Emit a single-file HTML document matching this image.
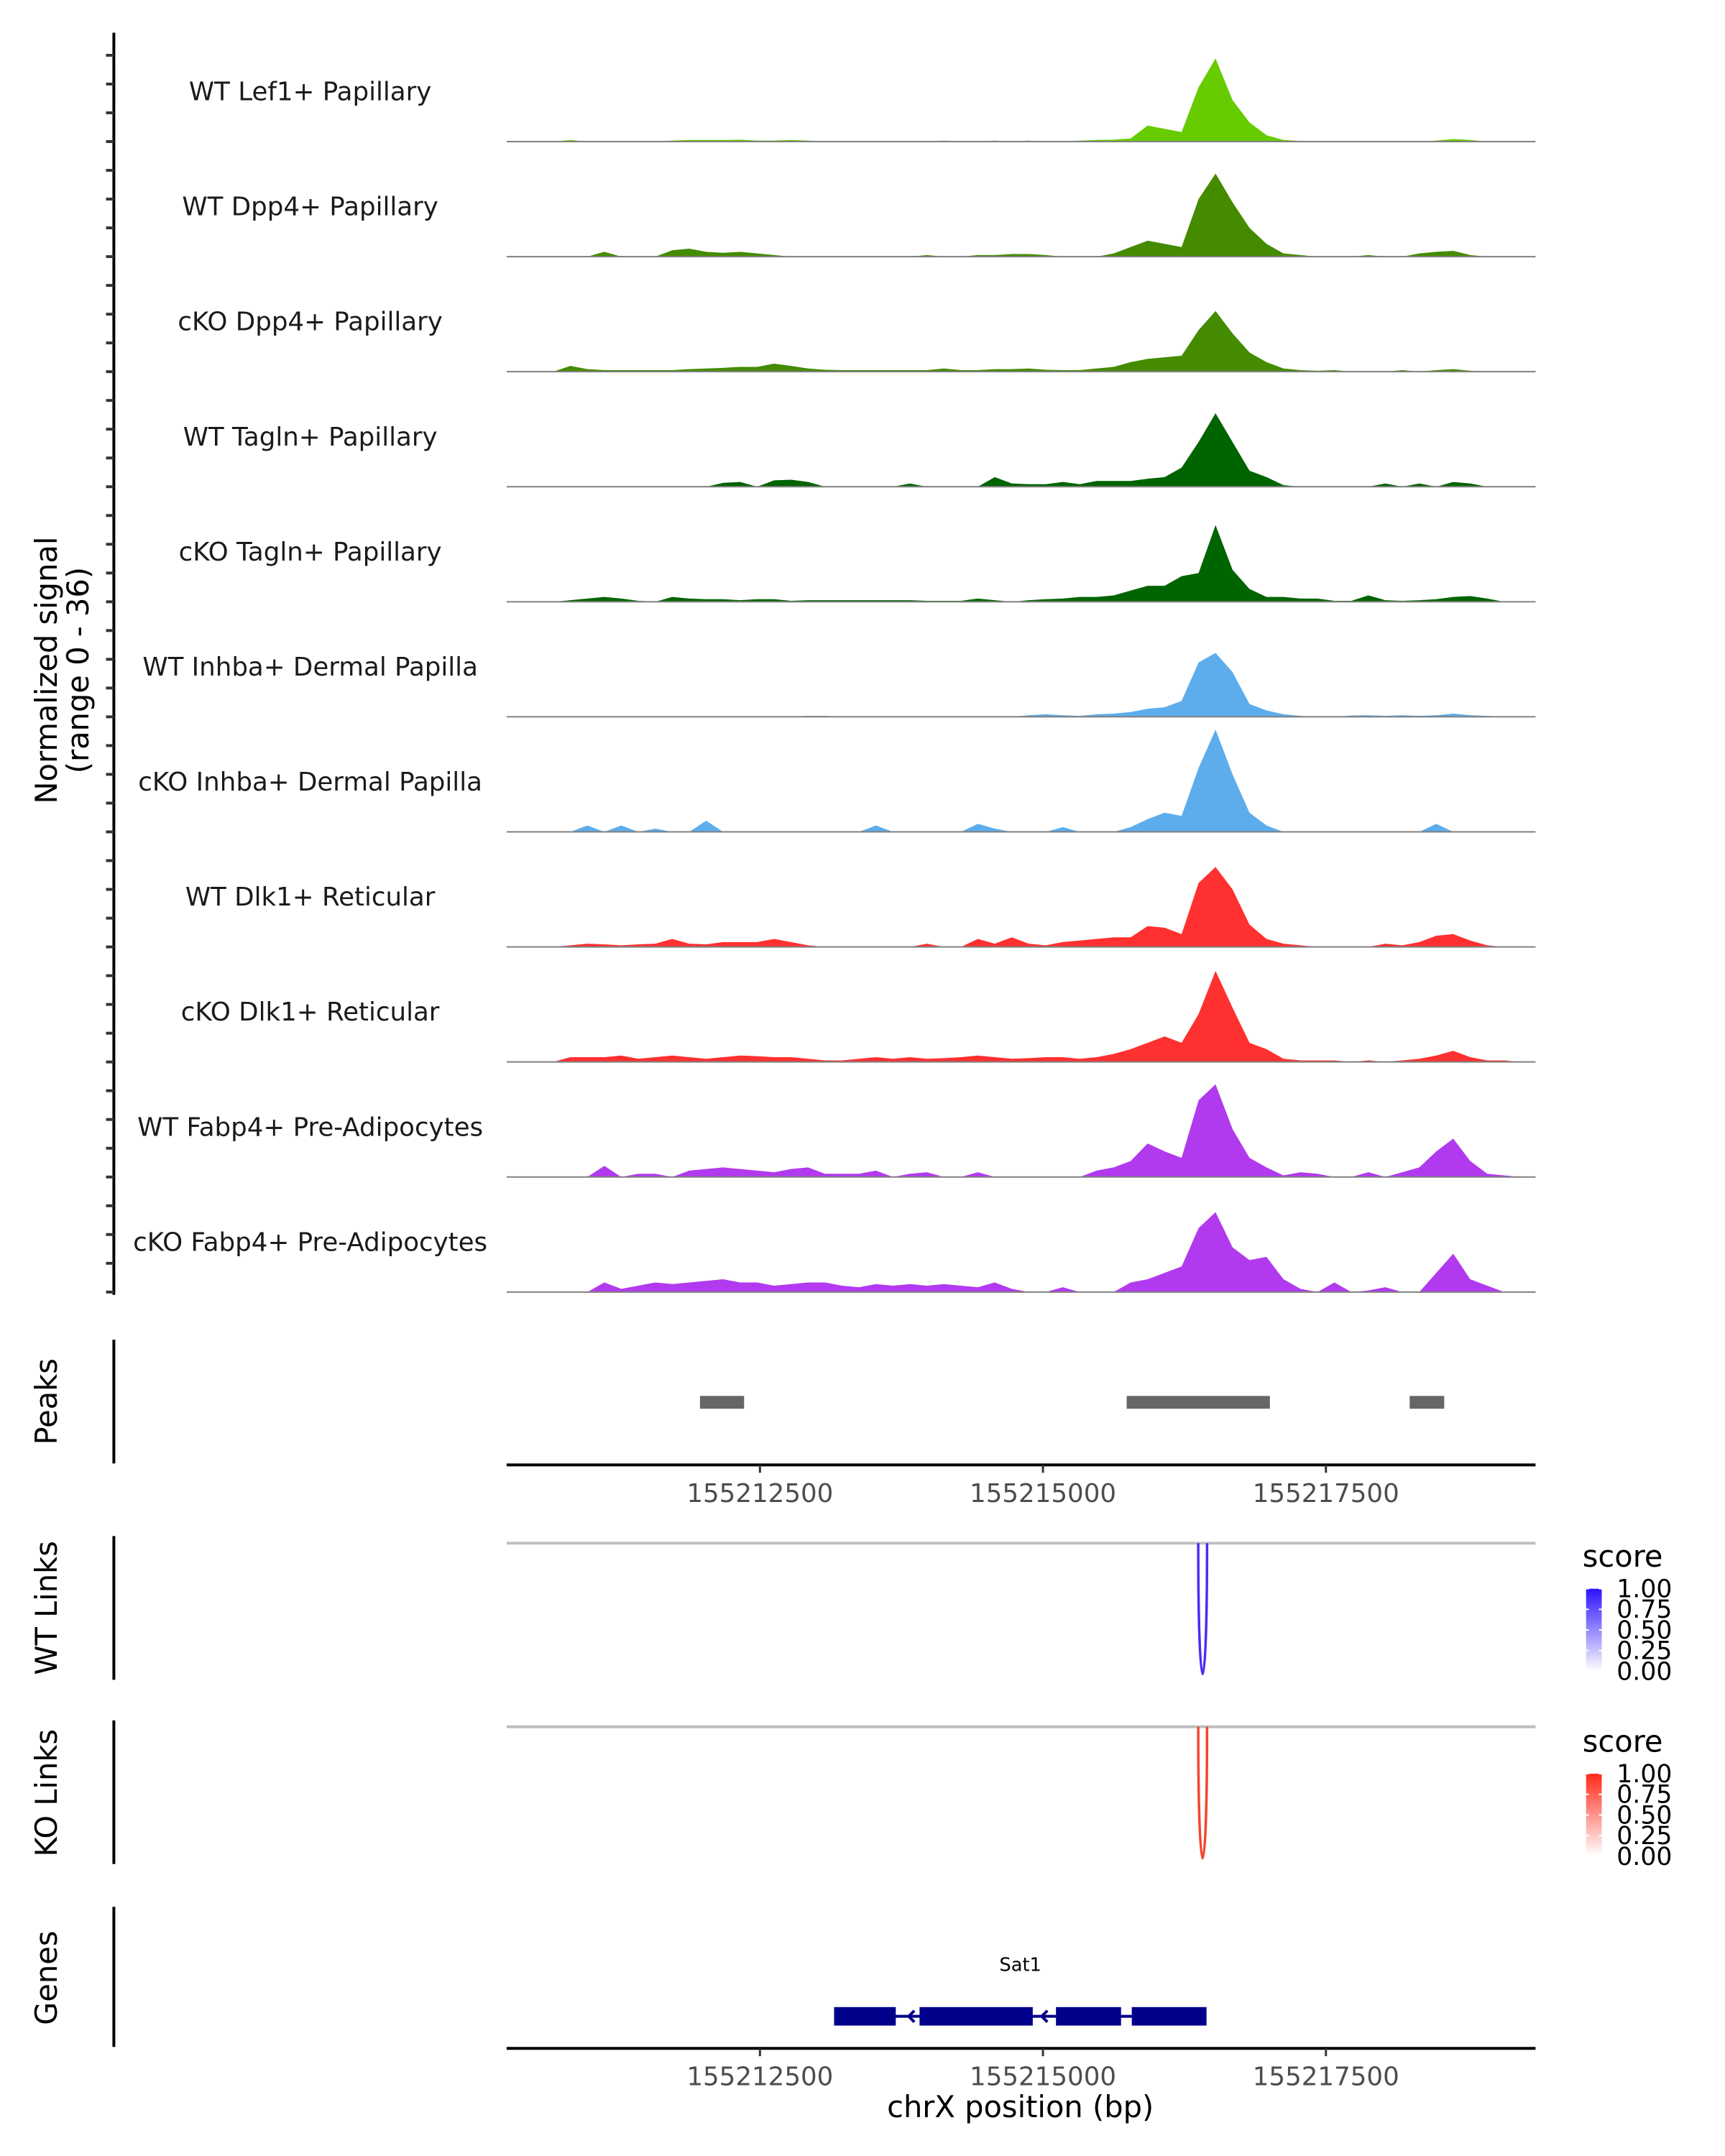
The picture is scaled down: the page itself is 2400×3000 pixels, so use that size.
<!DOCTYPE html>
<html><head><meta charset="utf-8"><style>
html,body{margin:0;padding:0;background:#fff;}
svg{display:block;font-family:"DejaVu Sans","Liberation Sans",sans-serif;}
</style></head><body>
<svg id="fig" width="2400" height="3000" viewBox="0 0 2400 3000" xmlns="http://www.w3.org/2000/svg">
<defs>
<linearGradient id="gBlue" x1="0" y1="1" x2="0" y2="0"><stop offset="0" stop-color="#ffffff"/><stop offset="1" stop-color="#2a12ff"/></linearGradient>
<linearGradient id="gRed" x1="0" y1="1" x2="0" y2="0"><stop offset="0" stop-color="#ffffff"/><stop offset="1" stop-color="#ff2a1a"/></linearGradient>
</defs>
<g transform="scale(0.99)">
<g id="tracks"></g>
<g id="others"></g>
</g>
</svg>
<script>
const binStart = 155210300;
const binWidth = 150;
const trackNames = ["WT Lef1+ Papillary","WT Dpp4+ Papillary","cKO Dpp4+ Papillary","WT Tagln+ Papillary","cKO Tagln+ Papillary","WT Inhba+ Dermal Papilla","cKO Inhba+ Dermal Papilla","WT Dlk1+ Reticular","cKO Dlk1+ Reticular","WT Fabp4+ Pre-Adipocytes","cKO Fabp4+ Pre-Adipocytes"];
const trackColors = ["#66CC00","#448B00","#448B00","#006400","#006400","#5DADEC","#5DADEC","#FF3030","#FF3030","#B23AEE","#B23AEE"];
const sigLef1WT = [0,0,0,0.5,0,0,0,0,0,0.3,0.5,0.5,0.5,0.6,0.3,0.3,0.5,0.3,0,0,0,0,0,0,0,0.3,0,0,0.3,0,0.3,0,0,0.3,0.5,0.6,1,5,4,3,17,26,13,6,2,0.5,0.2,0,0,0,0,0,0,0,0.3,0.8,0.5,0,0,0];
const sigDpp4WT = [0,0,0,0,0,1.5,0,0,0,2,2.5,1.5,1.2,1.5,1,0.5,0,0,0,0,0,0,0,0,0.5,0,0,0.5,0.5,0.8,0.8,0.5,0,0,0,1,3,5,4,3,18,26,17,9,4,1,0.5,0,0,0,0.5,0,0,1,1.5,1.8,0.5,0,0,0];
const sigDpp4KO = [0,0,0,1.8,0.8,0.5,0.5,0.5,0.5,0.5,0.8,1,1.2,1.5,1.5,2.5,1.8,1,0.6,0.5,0.5,0.5,0.5,0.5,0.5,1,0.5,0.5,0.8,0.8,1,0.6,0.5,0.5,1,1.5,3,4,4.5,5,13,19,12,6,3,1,0.5,0.3,0.5,0,0,0,0.5,0,0.5,0.8,0.3,0,0,0];
const sigTaglnWT = [0,0,0,0,0,0,0,0,0,0,0,0,1.2,1.5,0,2,2.2,1.5,0,0,0,0,0,1,0,0,0,0,3,1,0.8,0.8,1.5,0.8,1.8,1.8,1.8,2.5,3,6,14,23,14,5,3,0.5,0,0,0,0,0,1,0,1,0,1.5,1,0,0,0];
const sigTaglnKO = [0,0,0,0.5,1,1.5,1,0.3,0,1.5,1,0.8,0.8,0.5,0.8,0.8,0.3,0.5,0.5,0.5,0.5,0.5,0.5,0.5,0.3,0.3,0.3,1,0.5,0,0.5,0.8,1,1.5,1.5,2,3.5,5,5,8,9,24,10,4,1.5,1.5,1,1,0.3,0.3,2,0.5,0.3,0.5,0.8,1.5,1.8,1,0,0];
const sigInhbaWT = [0,0,0,0,0,0,0,0,0,0,0,0,0,0,0,0,0,0.3,0.3,0,0,0,0,0,0,0,0,0,0,0,0.5,0.8,0.5,0.3,0.8,1,1.5,2.5,3,5,17,20,14,4,2,0.8,0.3,0,0,0.4,0.5,0.3,0.5,0.3,0.5,1,0.5,0.3,0,0];
const sigInhbaKO = [0,0,0,0,2,0,2,0,1,0,0,3.5,0,0,0,0,0,0,0,0,0,2,0,0,0,0,0,2.5,1,0,0,0,1.5,0,0,0,1.5,4,6,5,20,32,18,6,2,0,0,0,0,0,0,0,0,0,2.5,0,0,0,0,0];
const sigDlk1WT = [0,0,0,0.5,1,0.8,0.5,0.8,1,2.5,1,0.8,1.5,1.5,1.5,2.5,1.5,0.5,0,0,0,0,0,0,1,0,0,2.5,1,3,1,0.5,1.5,2,2.5,3,3,6.5,6,4,20,25,18,7,2.5,1,0.5,0,0,0,0,1,0.5,1.5,3.5,4,2,0.5,0,0];
const sigDlk1KO = [0,0,0,1.5,1.5,1.5,2,1,1.5,2,1.5,1,1.5,2,1.8,1.5,1.5,1,0.5,0.5,1,1.5,1,1.5,1,1.2,1.5,2,1.5,1,1.2,1.5,1.5,1,1.5,2.5,4,6,8,6,15,28.5,17,6,4,1,0.5,0.5,0.5,0,0.5,0,0.5,1,2,3.5,1.5,0.5,0.5,0];
const sigFabp4WT = [0,0,0,0,0,3.5,0,1,1,0,2,2.5,3,2.5,2,1.5,2.5,3,1,1,1,2,0,1,1.5,0,0,1.5,0,0,0,0,0,0,2,3,5,10.5,8,6,24,29,15,6,3,0.5,1.5,1,0,0,1.5,0,1.5,3,8,12,5,1,0.5,0];
const sigFabp4KO = [0,0,0,0,0,3,1,2,3,2.5,3,3.5,4,3,3,2,2.5,3,3,2,1.5,2.5,2,2.5,2,2.5,2,1.5,3,1,0,0,1.5,0,0,0,3,4,6,8,20,25,14,10,11,4,1,0,3,0,0.5,1.5,0,0,6,12,4,2,0,0];
const trackSignals = [sigLef1WT,sigDpp4WT,sigDpp4KO,sigTaglnWT,sigTaglnKO,sigInhbaWT,sigInhbaKO,sigDlk1WT,sigDlk1KO,sigFabp4WT,sigFabp4KO];
const yTickValues = [0,9,18,27];
const xTickValues = [155212500,155215000,155217500];
const peakStarts = [155211970,155215740,155218240];
const peakEnds = [155212360,155217005,155218545];
const wtLinkStart = [155216372], wtLinkEnd = [155216450], wtLinkScore = [0.85];
const koLinkStart = [155216372], koLinkEnd = [155216450], koLinkScore = [0.85];
const legendTicks = ["1.00","0.75","0.50","0.25","0.00"];
const exonStarts = [155213155,155213910,155215115,155215785];
const exonEnds = [155213700,155214910,155215690,155216445];

const NS="http://www.w3.org/2000/svg";
const X0=712,X1=2158,G0=155210262,G1=155219352;
function xs(g){return X0+(g-G0)/(G1-G0)*(X1-X0);}
const TRACK_H=161.7, BASE0=199, MAXV=36;
function ys(i,v){return BASE0+i*TRACK_H - v/MAXV*TRACK_H;}
function mk(tag,attrs,parent){const e=document.createElementNS(NS,tag);for(const k in attrs)e.setAttribute(k,attrs[k]);parent.appendChild(e);return e;}
function txt(s,attrs,parent){const e=mk('text',attrs,parent);e.textContent=s;return e;}
const T=document.getElementById('tracks'), O=document.getElementById('others');

let ax=mk('line',{x1:160,y1:46,x2:160,y2:1820,stroke:'#000','stroke-width':4},T);


for(let i=0;i<trackSignals.length;i++){
  for(const tv of yTickValues){
    const y=ys(i,tv);
    const tk=mk('line',{x1:149,y1:y,x2:160,y2:y,stroke:'#333','stroke-width':4},T);
    
    
  }
}
let yt=txt('Normalized signal',{x:0,y:0,'font-size':42,'text-anchor':'middle',fill:'#000',transform:'translate(80,942) rotate(-90)'},T);


let yt2=txt('(range 0 - 36)',{x:0,y:0,'font-size':42,'text-anchor':'middle',fill:'#000',transform:'translate(124,942) rotate(-90)'},T);



for(let i=0;i<trackSignals.length;i++){
  const g=mk('g',{},T);
  
  
  const base=ys(i,0);
  const vals=trackSignals[i];
  let d='M'+xs(binStart)+','+base;
  for(let b=0;b<vals.length;b++){
    const xc=xs(binStart+(b+0.5)*binWidth), y=ys(i,vals[b]);
    d+=' L'+xc+','+y;
  }
  d+=' L'+xs(binStart+vals.length*binWidth)+','+base+' Z';
  const p=mk('path',{d:d,fill:trackColors[i],stroke:'none'},g);
  
  
  const bl=mk('line',{x1:X0,y1:base,x2:X1,y2:base,stroke:'#808080','stroke-width':2},g);
  
  
  const lb=txt(trackNames[i],{x:436,y:base-58,'font-size':36,'text-anchor':'middle',fill:'#1a1a1a'},g);
  
  
}

function panelLabel(s,cy,name){
  const t=txt(s,{x:0,y:0,'font-size':42,'text-anchor':'middle',fill:'#000',transform:'translate(80,'+cy+') rotate(-90)'},O);
  
  
}
function vline(y1,y2,name){
  const l=mk('line',{x1:160,y1:y1,x2:160,y2:y2,stroke:'#000','stroke-width':4},O);
  
  
}
function xaxis(y,name){
  const g=mk('g',{},O);
  
  
  mk('line',{x1:X0,y1:y,x2:X1,y2:y,stroke:'#000','stroke-width':4},g);
  for(const v of xTickValues){
    const x=xs(v);
    const tk=mk('line',{x1:x,y1:y,x2:x,y2:y+11,stroke:'#333','stroke-width':3},g);
    
    
    const tl=txt(String(v),{x:x,y:y+52,'font-size':36,'text-anchor':'middle',fill:'#4d4d4d'},g);
    
    
  }
}
panelLabel('Peaks',1970,'peaks-panel-label');
vline(1883,2057,'peaks-axis-line');
for(let k=0;k<peakStarts.length;k++){
  const r=mk('rect',{x:xs(peakStarts[k]),y:1962,width:xs(peakEnds[k])-xs(peakStarts[k]),height:18,fill:'#666'},O);
  
  
}
xaxis(2059,'peaks-x-axis');

function linkPanel(y0,depth,starts,ends,scores,col,grad,label,cy,top,bot,legY,prefix){
  panelLabel(label,cy,prefix+'-panel-label');
  vline(top,bot,prefix+'-axis-line');
  const gl=mk('line',{x1:X0,y1:y0,x2:X1,y2:y0,stroke:'#bebebe','stroke-width':4},O);
  
  
  for(let k=0;k<starts.length;k++){
    const a=xs(starts[k]),b=xs(ends[k]),c=y0+depth*scores[k]/0.85*4/3;
    const p=mk('path',{d:'M'+a+','+y0+' C'+a+','+c+' '+b+','+c+' '+b+','+y0,fill:'none',stroke:col,'stroke-width':3.5},O);
    
    
  }
  const lg=mk('g',{},O);
  
  
  txt('score',{x:2224,y:legY,'font-size':42,fill:'#000'},lg);
  const b0=legY+31;
  mk('rect',{x:2229,y:b0,width:22,height:116,fill:'url(#'+grad+')'},lg);
  legendTicks.forEach((s,j)=>{
    const y=b0+j*29;
    mk('line',{x1:2229,y1:y,x2:2233,y2:y,stroke:'#fff','stroke-width':2},lg);
    mk('line',{x1:2247,y1:y,x2:2251,y2:y,stroke:'#fff','stroke-width':2},lg);
    const t=txt(s,{x:2272,y:y+12,'font-size':35,fill:'#000'},lg);
    
    
  });
}
linkPanel(2169,184,wtLinkStart,wtLinkEnd,wtLinkScore,'#4a2cf5','gBlue','WT Links',2260,2159,2361,2202,'wt-links');
linkPanel(2427,185,koLinkStart,koLinkEnd,koLinkScore,'#f5442c','gRed','KO Links',2520,2418,2620,2462,'ko-links');

panelLabel('Genes',2780,'genes-panel-label');
vline(2680,2877,'genes-axis-line');
const gg=mk('g',{},O);


mk('line',{x1:xs(exonStarts[0]),y1:2834,x2:xs(exonEnds[exonEnds.length-1]),y2:2834,stroke:'#00008B','stroke-width':4},gg);
for(let k=0;k<exonStarts.length;k++){
  const r=mk('rect',{x:xs(exonStarts[k]),y:2821,width:xs(exonEnds[k])-xs(exonStarts[k]),height:26,fill:'#00008B'},gg);
  
  
}
for(const gx of [1277,1464]){
  mk('path',{d:'M'+(gx+8)+','+2826+' L'+gx+',2834 L'+(gx+8)+',2842',fill:'none',stroke:'#00008B','stroke-width':4},gg);
}
const gn=txt('Sat1',{x:1434,y:2770,'font-size':26,'text-anchor':'middle',fill:'#000'},gg);


xaxis(2879,'genes-x-axis');
const xt=txt('chrX position (bp)',{x:1434,y:2976,'font-size':42,'text-anchor':'middle',fill:'#000'},O);


</script>
</body></html>
